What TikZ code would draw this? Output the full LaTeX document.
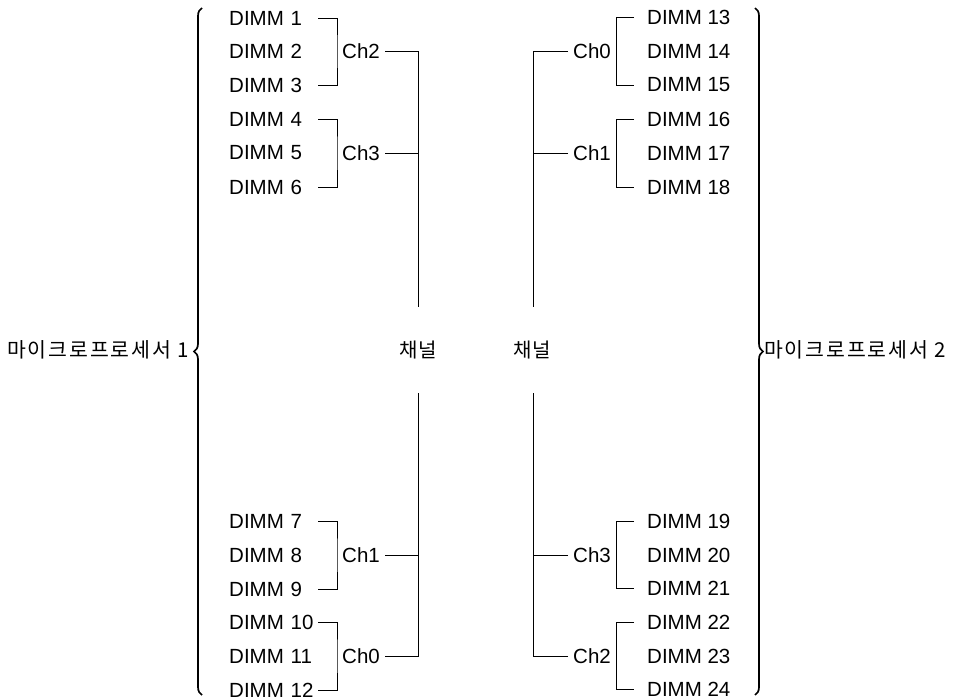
\documentclass[tikz,border=0pt]{standalone}
\usepackage{fontspec}
\setmainfont{Liberation Sans}
\newfontfamily\kr[LetterSpace=9]{Noto Sans CJK KR}
\newfontfamily\krc{Noto Sans CJK KR}
\usetikzlibrary{decorations.pathreplacing}
\begin{document}
\begin{tikzpicture}[x=1pt,y=-1pt,
  every node/.style={font=\fontsize{20.5}{24}\selectfont},
  dimmL/.style={anchor=west,inner sep=0pt,text width=86pt,align=left},
  dimmR/.style={anchor=west,inner sep=0pt},
  chL/.style={anchor=west,inner xsep=5pt,inner ysep=0pt},
  chR/.style={anchor=east,inner xsep=5pt,inner ysep=0pt},
  wire/.style={draw,line width=0.8pt},
  brc/.style={draw,line width=1.7pt,decorate,decoration={brace,amplitude=8pt}}]
\useasboundingbox (0,0) rectangle (957,700);
% left DIMMs
\node[dimmL] (d1) at (229,18) {DIMM 1};
\node[dimmL] (d2) at (229,51) {DIMM 2};
\node[dimmL] (d3) at (229,85) {DIMM 3};
\node[dimmL] (d4) at (229,119) {DIMM 4};
\node[dimmL] (d5) at (229,153) {DIMM 5};
\node[dimmL] (d6) at (229,187) {DIMM 6};
\node[dimmL] (d7) at (229,521) {DIMM 7};
\node[dimmL] (d8) at (229,555) {DIMM 8};
\node[dimmL] (d9) at (229,589) {DIMM 9};
\node[dimmL] (d10) at (229,622) {DIMM 10};
\node[dimmL] (d11) at (229,656) {DIMM 11};
\node[dimmL] (d12) at (229,690) {DIMM 12};
% right DIMMs
\node[dimmR] (d13) at (647,17) {DIMM 13};
\node[dimmR] (d14) at (647,51) {DIMM 14};
\node[dimmR] (d15) at (647,85) {DIMM 15};
\node[dimmR] (d16) at (647,119) {DIMM 16};
\node[dimmR] (d17) at (647,153) {DIMM 17};
\node[dimmR] (d18) at (647,187) {DIMM 18};
\node[dimmR] (d19) at (647,521) {DIMM 19};
\node[dimmR] (d20) at (647,555) {DIMM 20};
\node[dimmR] (d21) at (647,588) {DIMM 21};
\node[dimmR] (d22) at (647,622) {DIMM 22};
\node[dimmR] (d23) at (647,656) {DIMM 23};
\node[dimmR] (d24) at (647,689) {DIMM 24};
% left channels
\node[chL] (lc2) at (337,51) {Ch2};
\node[chL] (lc3) at (337,153) {Ch3};
\node[chL] (lc1) at (337,555) {Ch1};
\node[chL] (lc0) at (337,656) {Ch0};
% right channels
\node[chR] (rc0) at (616,51) {Ch0};
\node[chR] (rc1) at (616,153) {Ch1};
\node[chR] (rc3) at (616,555) {Ch3};
\node[chR] (rc2) at (616,656) {Ch2};
% channel labels
\node[font=\krc\fontsize{20}{24}\selectfont] (chanL) at (418,350) {채널};
\node[font=\krc\fontsize{20}{24}\selectfont] (chanR) at (532,350) {채널};
\coordinate (ltop) at (418,307);
\coordinate (lbot) at (418,393);
\coordinate (rtop) at (533,307);
\coordinate (rbot) at (533,393);
% processor labels
\node[font=\kr\fontsize{20.5}{24}\selectfont,anchor=east,inner sep=0pt] (p1) at (189,350) {마이크로프로세서 1};
\node[font=\kr\fontsize{20.5}{24}\selectfont,anchor=west,inner sep=0pt] (p2) at (764,350) {마이크로프로세서 2};
% left brackets
\draw[wire] ([xshift=3pt]d1.east) -| (lc2.west) |- ([xshift=3pt]d3.east);
\draw[wire] ([xshift=3pt]d4.east) -| (lc3.west) |- ([xshift=3pt]d6.east);
\draw[wire] ([xshift=3pt]d7.east) -| (lc1.west) |- ([xshift=3pt]d9.east);
\draw[wire] ([xshift=3pt]d10.east) -| (lc0.west) |- ([xshift=3pt]d12.east);
% left trunk
\draw[wire] (lc2.east) -| (ltop);
\draw[wire] (lc3.east) -- (lc3.east -| ltop);
\draw[wire] (lc0.east) -| (lbot);
\draw[wire] (lc1.east) -- (lc1.east -| lbot);
% right brackets
\draw[wire] ([xshift=-13pt]d13.west) -| (rc0.east) |- ([xshift=-13pt]d15.west);
\draw[wire] ([xshift=-13pt]d16.west) -| (rc1.east) |- ([xshift=-13pt]d18.west);
\draw[wire] ([xshift=-13pt]d19.west) -| (rc3.east) |- ([xshift=-13pt]d21.west);
\draw[wire] ([xshift=-13pt]d22.west) -| (rc2.east) |- ([xshift=-13pt]d24.west);
% right trunk
\draw[wire] (rc0.west) -| (rtop);
\draw[wire] (rc1.west) -- (rc1.west -| rtop);
\draw[wire] (rc2.west) -| (rbot);
\draw[wire] (rc3.west) -- (rc3.west -| rbot);
% braces
\draw[brc] (202,695) -- (202,8);
\draw[brc] (755,8) -- (755,695);
\end{tikzpicture}
\end{document}
